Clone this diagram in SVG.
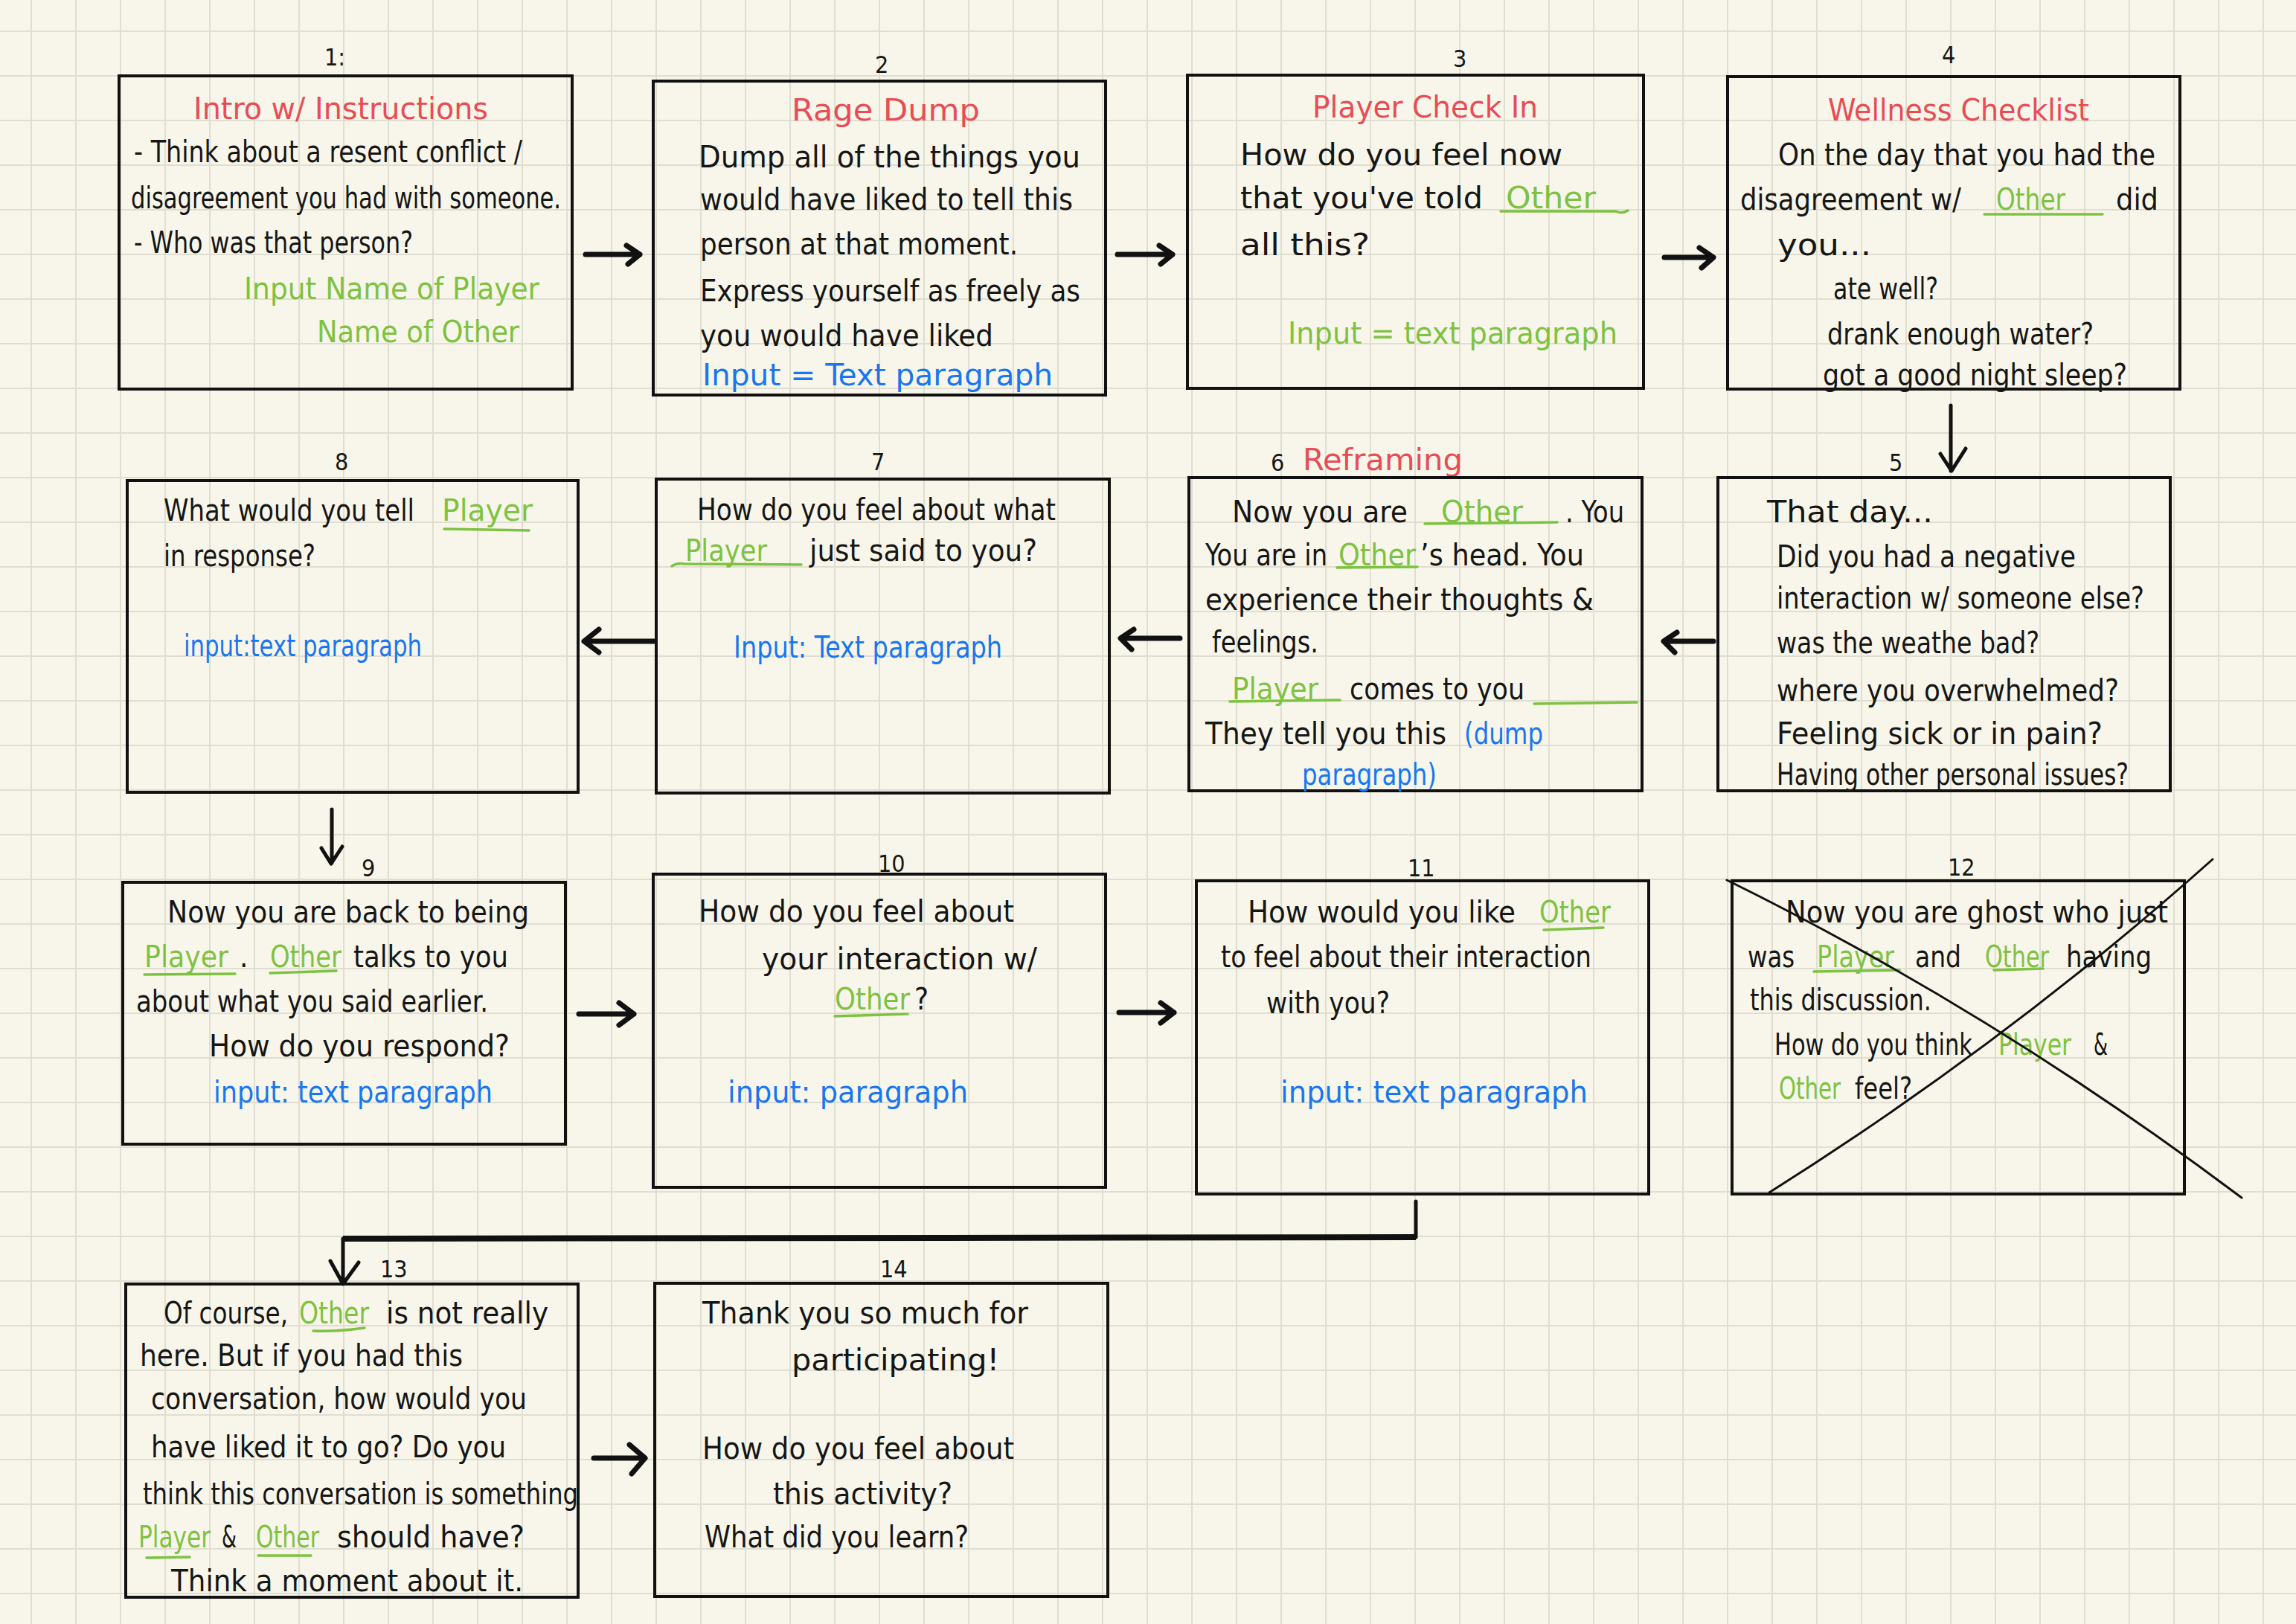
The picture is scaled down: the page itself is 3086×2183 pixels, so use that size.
<svg xmlns="http://www.w3.org/2000/svg" width="3086" height="2183" viewBox="0 0 3086 2183">
<defs>
<pattern id="grid" patternUnits="userSpaceOnUse" x="41" y="41" width="60" height="60">
<rect x="0" y="0" width="2" height="60" fill="#e0ddd1"/>
<rect x="0" y="0" width="60" height="2" fill="#e0ddd1"/>
</pattern>
<style>
.box{fill:none;stroke:#111;stroke-width:4}
.t{font-family:"DejaVu Sans Condensed","DejaVu Sans","Liberation Sans",sans-serif;font-size:40px;fill:#161616}
.lbl{font-family:"DejaVu Sans Condensed","DejaVu Sans","Liberation Sans",sans-serif;font-size:32px;fill:#161616}
.r{fill:#e84c55}
.g{fill:#7ec242}
.b{fill:#1877f0}
.ul{fill:none;stroke:#7ec242;stroke-width:3.5;stroke-linecap:round}
.arr{fill:none;stroke:#111;stroke-width:7;stroke-linecap:round;stroke-linejoin:round}
.arrv{fill:none;stroke:#111;stroke-width:5;stroke-linecap:round;stroke-linejoin:round}
.cross{fill:none;stroke:#111;stroke-width:3;stroke-linecap:round}
</style>
</defs>
<rect width="3086" height="2183" fill="#f8f6ea"/>
<rect width="3086" height="2183" fill="url(#grid)"/>

<g id="connectors">
<path class="arr" d="M787 342 H860 M842 330 L860 342 L844 355"/>
<path class="arr" d="M1502 342 H1576 M1558 330 L1576 342 L1560 355"/>
<path class="arr" d="M2237 346 H2302 M2284 333 L2303 346 L2287 360"/>
<path class="arrv" d="M2622 545 V633 M2608 610 L2623 633 L2642 603"/>
<path class="arr" d="M2303 862 H2237 M2254 850 L2236 862 L2251 877"/>
<path class="arr" d="M1586 858 H1507 M1524 846 L1506 858 L1521 873"/>
<path class="arr" d="M879 862 H785 M805 846 L785 862 L805 877"/>
<path class="arrv" d="M446 1088 V1160 M432 1140 L445 1161 L460 1138"/>
<path class="arr" d="M778 1363 H852 M832 1348 L852 1363 L832 1378"/>
<path class="arr" d="M1504 1361 H1578 M1560 1348 L1578 1361 L1560 1375"/>
<path class="arrv" d="M1903 1615 V1663"/>
<path fill="none" stroke="#111" stroke-width="8" d="M1903 1663 L461 1665"/>
<path class="arrv" d="M461 1665 V1726 M444 1695 L461 1726 L482 1697"/>
<path class="arr" d="M798 1960 H867 M846 1942 L867 1960 L849 1981"/>
</g>

<g id="node1">
<text class="lbl" x="436" y="88">1:</text>
<rect class="box" x="160" y="102" width="609" height="421"/>
<text class="t r" x="260" y="160" textLength="396" lengthAdjust="spacingAndGlyphs">Intro w/ Instructions</text>
<text class="t" x="180" y="218" textLength="522" lengthAdjust="spacingAndGlyphs">- Think about a resent conflict /</text>
<text class="t" x="176" y="280" textLength="578" lengthAdjust="spacingAndGlyphs">disagreement you had with someone.</text>
<text class="t" x="180" y="340" textLength="375" lengthAdjust="spacingAndGlyphs">- Who was that person?</text>
<text class="t g" x="328" y="402" textLength="397" lengthAdjust="spacingAndGlyphs">Input Name of Player</text>
<text class="t g" x="426" y="460" textLength="272" lengthAdjust="spacingAndGlyphs">Name of Other</text>
</g>

<g id="node2">
<text class="lbl" x="1176" y="98">2</text>
<rect class="box" x="878" y="109" width="608" height="422"/>
<text class="t r" x="1064" y="162" textLength="253" lengthAdjust="spacingAndGlyphs">Rage Dump</text>
<text class="t" x="939" y="225" textLength="513" lengthAdjust="spacingAndGlyphs">Dump all of the things you</text>
<text class="t" x="941" y="282" textLength="501" lengthAdjust="spacingAndGlyphs">would have liked to tell this</text>
<text class="t" x="941" y="342" textLength="427" lengthAdjust="spacingAndGlyphs">person at that moment.</text>
<text class="t" x="941" y="405" textLength="511" lengthAdjust="spacingAndGlyphs">Express yourself as freely as</text>
<text class="t" x="941" y="465" textLength="394" lengthAdjust="spacingAndGlyphs">you would have liked</text>
<text class="t b" x="944" y="518" textLength="471" lengthAdjust="spacingAndGlyphs">Input = Text paragraph</text>
</g>

<g id="node3">
<text class="lbl" x="1953" y="90">3</text>
<rect class="box" x="1596" y="101" width="613" height="421"/>
<text class="t r" x="1764" y="158" textLength="303" lengthAdjust="spacingAndGlyphs">Player Check In</text>
<text class="t" x="1667" y="222" textLength="433" lengthAdjust="spacingAndGlyphs">How do you feel now</text>
<text class="t" x="1667" y="280" textLength="326" lengthAdjust="spacingAndGlyphs">that you've told</text>
<text class="t g" x="2024" y="280" textLength="121" lengthAdjust="spacingAndGlyphs">Other</text>
<path class="ul" d="M2017 284 L2172 284 Q2180 288 2188 283"/>
<text class="t" x="1667" y="343" textLength="174" lengthAdjust="spacingAndGlyphs">all this?</text>
<text class="t g" x="1731" y="462" textLength="443" lengthAdjust="spacingAndGlyphs">Input = text paragraph</text>
</g>

<g id="node4">
<text class="lbl" x="2610" y="85">4</text>
<rect class="box" x="2322" y="103" width="608" height="420"/>
<text class="t r" x="2457" y="162" textLength="351" lengthAdjust="spacingAndGlyphs">Wellness Checklist</text>
<text class="t" x="2390" y="222" textLength="507" lengthAdjust="spacingAndGlyphs">On the day that you had the</text>
<text class="t" x="2339" y="282" textLength="297" lengthAdjust="spacingAndGlyphs">disagreement w/</text>
<text class="t g" x="2683" y="282" textLength="93" lengthAdjust="spacingAndGlyphs">Other</text>
<path class="ul" d="M2667 288 L2826 288"/>
<text class="t" x="2844" y="282" textLength="57" lengthAdjust="spacingAndGlyphs">did</text>
<text class="t" x="2389" y="343" textLength="126" lengthAdjust="spacingAndGlyphs">you...</text>
<text class="t" x="2464" y="402" textLength="141" lengthAdjust="spacingAndGlyphs">ate well?</text>
<text class="t" x="2456" y="463" textLength="358" lengthAdjust="spacingAndGlyphs">drank enough water?</text>
<text class="t" x="2450" y="518" textLength="409" lengthAdjust="spacingAndGlyphs">got a good night sleep?</text>
</g>

<g id="node5">
<text class="lbl" x="2539" y="633">5</text>
<rect class="box" x="2309" y="642" width="608" height="421"/>
<text class="t" x="2375" y="702" textLength="223" lengthAdjust="spacingAndGlyphs">That day...</text>
<text class="t" x="2388" y="762" textLength="402" lengthAdjust="spacingAndGlyphs">Did you had a negative</text>
<text class="t" x="2388" y="818" textLength="494" lengthAdjust="spacingAndGlyphs">interaction w/ someone else?</text>
<text class="t" x="2388" y="878" textLength="353" lengthAdjust="spacingAndGlyphs">was the weathe bad?</text>
<text class="t" x="2388" y="942" textLength="460" lengthAdjust="spacingAndGlyphs">where you overwhelmed?</text>
<text class="t" x="2388" y="1000" textLength="438" lengthAdjust="spacingAndGlyphs">Feeling sick or in pain?</text>
<text class="t" x="2388" y="1055" textLength="473" lengthAdjust="spacingAndGlyphs">Having other personal issues?</text>
</g>

<g id="node6">
<text class="lbl" x="1708" y="633">6</text>
<text class="t r" x="1751" y="632" textLength="215" lengthAdjust="spacingAndGlyphs">Reframing</text>
<rect class="box" x="1598" y="642" width="609" height="421"/>
<text class="t" x="1656" y="702" textLength="236" lengthAdjust="spacingAndGlyphs">Now you are</text>
<text class="t g" x="1937" y="702" textLength="110" lengthAdjust="spacingAndGlyphs">Other</text>
<path class="ul" d="M1915 704 L2093 702"/>
<text class="t" x="2104" y="702" textLength="79" lengthAdjust="spacingAndGlyphs">. You</text>
<text class="t" x="1620" y="760" textLength="164" lengthAdjust="spacingAndGlyphs">You are in</text>
<text class="t g" x="1799" y="760" textLength="104" lengthAdjust="spacingAndGlyphs">Other</text>
<path class="ul" d="M1797 763 L1905 762"/>
<text class="t" x="1909" y="760" textLength="220" lengthAdjust="spacingAndGlyphs">’s head. You</text>
<text class="t" x="1620" y="820" textLength="522" lengthAdjust="spacingAndGlyphs">experience their thoughts &amp;</text>
<text class="t" x="1629" y="877" textLength="143" lengthAdjust="spacingAndGlyphs">feelings.</text>
<text class="t g" x="1656" y="940" textLength="116" lengthAdjust="spacingAndGlyphs">Player</text>
<path class="ul" d="M1653 943 L1801 941"/>
<text class="t" x="1814" y="940" textLength="235" lengthAdjust="spacingAndGlyphs">comes to you</text>
<path class="ul" d="M2062 946 L2200 944"/>
<text class="t" x="1620" y="1000" textLength="324" lengthAdjust="spacingAndGlyphs">They tell you this</text>
<text class="t b" x="1968" y="1000" textLength="106" lengthAdjust="spacingAndGlyphs">(dump</text>
<text class="t b" x="1750" y="1055" textLength="181" lengthAdjust="spacingAndGlyphs">paragraph)</text>
</g>

<g id="node7">
<text class="lbl" x="1171" y="632">7</text>
<rect class="box" x="882" y="644" width="609" height="422"/>
<text class="t" x="937" y="699" textLength="482" lengthAdjust="spacingAndGlyphs">How do you feel about what</text>
<text class="t g" x="921" y="754" textLength="110" lengthAdjust="spacingAndGlyphs">Player</text>
<path class="ul" d="M903 761 Q910 756 920 758 L1077 759"/>
<text class="t" x="1088" y="754" textLength="306" lengthAdjust="spacingAndGlyphs">just said to you?</text>
<text class="t b" x="986" y="884" textLength="361" lengthAdjust="spacingAndGlyphs">Input: Text paragraph</text>
</g>

<g id="node8">
<text class="lbl" x="450" y="632">8</text>
<rect class="box" x="171" y="646" width="606" height="419"/>
<text class="t" x="220" y="700" textLength="337" lengthAdjust="spacingAndGlyphs">What would you tell</text>
<text class="t g" x="594" y="700" textLength="122" lengthAdjust="spacingAndGlyphs">Player</text>
<path class="ul" d="M597 711 L711 713"/>
<text class="t" x="220" y="761" textLength="204" lengthAdjust="spacingAndGlyphs">in response?</text>
<text class="t b" x="247" y="882" textLength="320" lengthAdjust="spacingAndGlyphs">input:text paragraph</text>
</g>

<g id="node9">
<text class="lbl" x="486" y="1178">9</text>
<rect class="box" x="165" y="1186" width="595" height="352"/>
<text class="t" x="225" y="1240" textLength="486" lengthAdjust="spacingAndGlyphs">Now you are back to being</text>
<text class="t g" x="194" y="1300" textLength="113" lengthAdjust="spacingAndGlyphs">Player</text>
<path class="ul" d="M194 1310 L316 1309"/>
<text class="t" x="322" y="1300">.</text>
<text class="t g" x="363" y="1300" textLength="96" lengthAdjust="spacingAndGlyphs">Other</text>
<path class="ul" d="M363 1308 L452 1305"/>
<text class="t" x="475" y="1300" textLength="208" lengthAdjust="spacingAndGlyphs">talks to you</text>
<text class="t" x="183" y="1360" textLength="473" lengthAdjust="spacingAndGlyphs">about what you said earlier.</text>
<text class="t" x="281" y="1420" textLength="404" lengthAdjust="spacingAndGlyphs">How do you respond?</text>
<text class="t b" x="287" y="1482" textLength="375" lengthAdjust="spacingAndGlyphs">input: text paragraph</text>
</g>

<g id="node10">
<text class="lbl" x="1180" y="1172">10</text>
<rect class="box" x="878" y="1175" width="608" height="421"/>
<text class="t" x="939" y="1239" textLength="424" lengthAdjust="spacingAndGlyphs">How do you feel about</text>
<text class="t" x="1024" y="1303" textLength="370" lengthAdjust="spacingAndGlyphs">your interaction w/</text>
<text class="t g" x="1122" y="1357" textLength="101" lengthAdjust="spacingAndGlyphs">Other</text>
<path class="ul" d="M1122 1366 L1220 1363"/>
<text class="t" x="1229" y="1357">?</text>
<text class="t b" x="978" y="1482" textLength="323" lengthAdjust="spacingAndGlyphs">input: paragraph</text>
</g>

<g id="node11">
<text class="lbl" x="1892" y="1178">11</text>
<rect class="box" x="1608" y="1184" width="608" height="421"/>
<text class="t" x="1677" y="1240" textLength="360" lengthAdjust="spacingAndGlyphs">How would you like</text>
<text class="t g" x="2069" y="1240" textLength="96" lengthAdjust="spacingAndGlyphs">Other</text>
<path class="ul" d="M2075 1250 L2155 1247"/>
<text class="t" x="1641" y="1300" textLength="498" lengthAdjust="spacingAndGlyphs">to feel about their interaction</text>
<text class="t" x="1702" y="1362" textLength="166" lengthAdjust="spacingAndGlyphs">with you?</text>
<text class="t b" x="1721" y="1482" textLength="413" lengthAdjust="spacingAndGlyphs">input: text paragraph</text>
</g>

<g id="node12">
<text class="lbl" x="2618" y="1177">12</text>
<rect class="box" x="2328" y="1184" width="608" height="421"/>
<text class="t" x="2400" y="1240" textLength="514" lengthAdjust="spacingAndGlyphs">Now you are ghost who just</text>
<text class="t" x="2349" y="1300" textLength="63" lengthAdjust="spacingAndGlyphs">was</text>
<text class="t g" x="2442" y="1300" textLength="104" lengthAdjust="spacingAndGlyphs">Player</text>
<path class="ul" d="M2438 1306 L2553 1304"/>
<text class="t" x="2574" y="1300" textLength="62" lengthAdjust="spacingAndGlyphs">and</text>
<text class="t g" x="2668" y="1300" textLength="86" lengthAdjust="spacingAndGlyphs">Other</text>
<path class="ul" d="M2680 1304 L2746 1302"/>
<text class="t" x="2777" y="1300" textLength="115" lengthAdjust="spacingAndGlyphs">having</text>
<text class="t" x="2352" y="1358" textLength="244" lengthAdjust="spacingAndGlyphs">this discussion.</text>
<text class="t" x="2385" y="1418" textLength="266" lengthAdjust="spacingAndGlyphs">How do you think</text>
<text class="t g" x="2686" y="1418" textLength="98" lengthAdjust="spacingAndGlyphs">Player</text>
<text class="t" x="2814" y="1418" textLength="19" lengthAdjust="spacingAndGlyphs">&amp;</text>
<text class="t g" x="2391" y="1477" textLength="83" lengthAdjust="spacingAndGlyphs">Other</text>
<text class="t" x="2493" y="1477" textLength="77" lengthAdjust="spacingAndGlyphs">feel?</text>
<path class="cross" d="M2321 1183 Q2680 1360 3013 1610"/>
<path class="cross" d="M2378 1603 Q2700 1400 2974 1155"/>
</g>

<g id="node13">
<text class="lbl" x="511" y="1717">13</text>
<rect class="box" x="169" y="1726" width="608" height="421"/>
<text class="t" x="220" y="1779" textLength="167" lengthAdjust="spacingAndGlyphs">Of course,</text>
<text class="t g" x="402" y="1779" textLength="94" lengthAdjust="spacingAndGlyphs">Other</text>
<path class="ul" d="M421 1789 Q455 1790 490 1785"/>
<text class="t" x="519" y="1779" textLength="218" lengthAdjust="spacingAndGlyphs">is not really</text>
<text class="t" x="188" y="1836" textLength="434" lengthAdjust="spacingAndGlyphs">here. But if you had this</text>
<text class="t" x="203" y="1894" textLength="505" lengthAdjust="spacingAndGlyphs">conversation, how would you</text>
<text class="t" x="203" y="1959" textLength="477" lengthAdjust="spacingAndGlyphs">have liked it to go? Do you</text>
<text class="t" x="192" y="2022" textLength="585" lengthAdjust="spacingAndGlyphs">think this conversation is something</text>
<text class="t g" x="186" y="2080" textLength="97" lengthAdjust="spacingAndGlyphs">Player</text>
<path class="ul" d="M197 2094 L255 2093"/>
<text class="t" x="298" y="2080" textLength="20" lengthAdjust="spacingAndGlyphs">&amp;</text>
<text class="t g" x="344" y="2080" textLength="85" lengthAdjust="spacingAndGlyphs">Other</text>
<path class="ul" d="M347 2091 L418 2091"/>
<text class="t" x="453" y="2080" textLength="252" lengthAdjust="spacingAndGlyphs">should have?</text>
<text class="t" x="230" y="2139" textLength="473" lengthAdjust="spacingAndGlyphs">Think a moment about it.</text>
</g>

<g id="node14">
<text class="lbl" x="1183" y="1717">14</text>
<rect class="box" x="880" y="1725" width="609" height="421"/>
<text class="t" x="944" y="1779" textLength="438" lengthAdjust="spacingAndGlyphs">Thank you so much for</text>
<text class="t" x="1064" y="1842" textLength="279" lengthAdjust="spacingAndGlyphs">participating!</text>
<text class="t" x="944" y="1961" textLength="419" lengthAdjust="spacingAndGlyphs">How do you feel about</text>
<text class="t" x="1039" y="2022" textLength="241" lengthAdjust="spacingAndGlyphs">this activity?</text>
<text class="t" x="947" y="2080" textLength="355" lengthAdjust="spacingAndGlyphs">What did you learn?</text>
</g>
</svg>
